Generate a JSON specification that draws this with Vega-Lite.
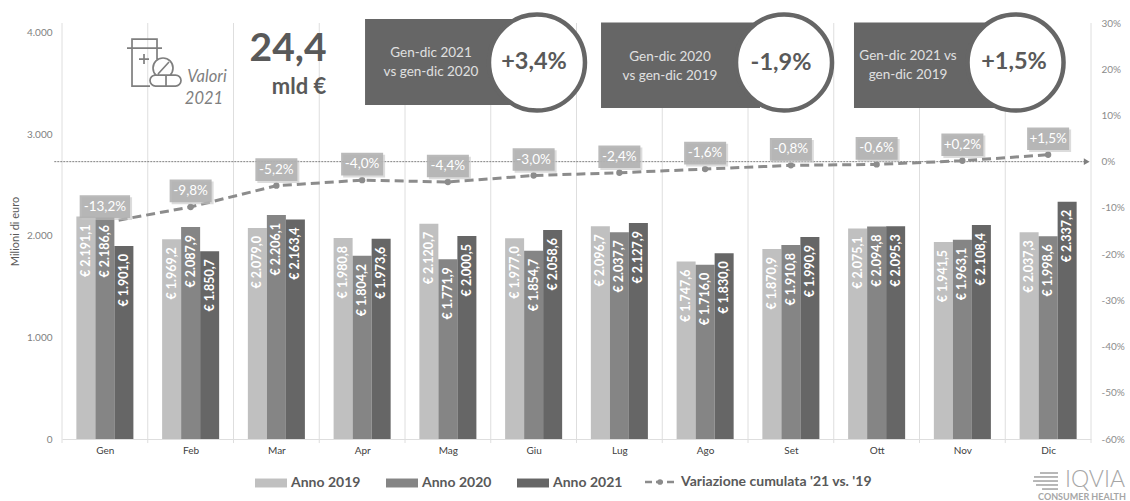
{
  "$schema": "https://vega.github.io/schema/vega-lite/v6.json",
  "autosize": "none",
  "padding": {"left": 62, "top": 23, "right": 39, "bottom": 62},
  "width": 1029,
  "height": 416,
  "background": "white",
  "config": {"view": {"stroke": null}, "font": "Lato", "text": {"font": "Lato"}},
  "datasets": {
    "vendite": [
      {"mese": "Gen", "serie": "Anno 2019", "v": 2191.1}, {"mese": "Gen", "serie": "Anno 2020", "v": 2186.6}, {"mese": "Gen", "serie": "Anno 2021", "v": 1901.0},
      {"mese": "Feb", "serie": "Anno 2019", "v": 1969.2}, {"mese": "Feb", "serie": "Anno 2020", "v": 2087.9}, {"mese": "Feb", "serie": "Anno 2021", "v": 1850.7},
      {"mese": "Mar", "serie": "Anno 2019", "v": 2079.0}, {"mese": "Mar", "serie": "Anno 2020", "v": 2206.1}, {"mese": "Mar", "serie": "Anno 2021", "v": 2163.4},
      {"mese": "Apr", "serie": "Anno 2019", "v": 1980.8}, {"mese": "Apr", "serie": "Anno 2020", "v": 1804.2}, {"mese": "Apr", "serie": "Anno 2021", "v": 1973.6},
      {"mese": "Mag", "serie": "Anno 2019", "v": 2120.7}, {"mese": "Mag", "serie": "Anno 2020", "v": 1771.9}, {"mese": "Mag", "serie": "Anno 2021", "v": 2000.5},
      {"mese": "Giu", "serie": "Anno 2019", "v": 1977.0}, {"mese": "Giu", "serie": "Anno 2020", "v": 1854.7}, {"mese": "Giu", "serie": "Anno 2021", "v": 2058.6},
      {"mese": "Lug", "serie": "Anno 2019", "v": 2096.7}, {"mese": "Lug", "serie": "Anno 2020", "v": 2037.7}, {"mese": "Lug", "serie": "Anno 2021", "v": 2127.9},
      {"mese": "Ago", "serie": "Anno 2019", "v": 1747.6}, {"mese": "Ago", "serie": "Anno 2020", "v": 1716.0}, {"mese": "Ago", "serie": "Anno 2021", "v": 1830.0},
      {"mese": "Set", "serie": "Anno 2019", "v": 1870.9}, {"mese": "Set", "serie": "Anno 2020", "v": 1910.8}, {"mese": "Set", "serie": "Anno 2021", "v": 1990.9},
      {"mese": "Ott", "serie": "Anno 2019", "v": 2075.1}, {"mese": "Ott", "serie": "Anno 2020", "v": 2094.8}, {"mese": "Ott", "serie": "Anno 2021", "v": 2095.3},
      {"mese": "Nov", "serie": "Anno 2019", "v": 1941.5}, {"mese": "Nov", "serie": "Anno 2020", "v": 1963.1}, {"mese": "Nov", "serie": "Anno 2021", "v": 2108.4},
      {"mese": "Dic", "serie": "Anno 2019", "v": 2037.3}, {"mese": "Dic", "serie": "Anno 2020", "v": 1998.6}, {"mese": "Dic", "serie": "Anno 2021", "v": 2337.2}
    ],
    "cumulata": [
      {"mese": "Gen", "p": -13.2}, {"mese": "Feb", "p": -9.8}, {"mese": "Mar", "p": -5.2}, {"mese": "Apr", "p": -4.0},
      {"mese": "Mag", "p": -4.4}, {"mese": "Giu", "p": -3.0}, {"mese": "Lug", "p": -2.4}, {"mese": "Ago", "p": -1.6},
      {"mese": "Set", "p": -0.8}, {"mese": "Ott", "p": -0.6}, {"mese": "Nov", "p": 0.2}, {"mese": "Dic", "p": 1.5}
    ]
  },
  "resolve": {"scale": {"y": "independent"}},
  "encoding": {
    "x": {
      "field": "m", "type": "quantitative",
      "scale": {"domain": [0, 12], "nice": false, "zero": false},
      "axis": {
        "title": null, "values": [0.5, 1.5, 2.5, 3.5, 4.5, 5.5, 6.5, 7.5, 8.5, 9.5, 10.5, 11.5],
        "labelExpr": "['Gen', 'Feb', 'Mar', 'Apr', 'Mag', 'Giu', 'Lug', 'Ago', 'Set', 'Ott', 'Nov', 'Dic'][floor(datum.value)]",
        "ticks": false, "domain": true, "domainColor": "#dedede", "grid": false,
        "labelColor": "#404040", "labelFont": "Lato", "labelFontSize": 10, "labelPadding": 6, "labelAngle": 0
      }
    }
  },
  "layer": [
    {
      "data": {"values": [{"m": 0}, {"m": 1}, {"m": 2}, {"m": 3}, {"m": 4}, {"m": 5}, {"m": 6}, {"m": 7}, {"m": 8}, {"m": 9}, {"m": 10}, {"m": 11}, {"m": 12}]},
      "mark": {"type": "rule", "color": "#dedede", "strokeWidth": 1},
      "encoding": {
        "y": {"datum": -40, "type": "quantitative", "scale": {"domain": [0, 4098.5]}, "axis": null},
        "y2": {"datum": 4098.5}
      }
    },
    {
      "data": {"values": [{"m": -0.09, "m2": 11.95, "livello": 0}]},
      "mark": {"type": "rule", "color": "#7f7f7f", "strokeWidth": 1, "strokeDash": [2, 1]},
      "encoding": {
        "x2": {"field": "m2"},
        "y": {"field": "livello", "type": "quantitative", "scale": {"domain": [-60, 30]}, "axis": null}
      }
    },
    {
      "data": {"values": [{"m": 11.95, "livello": 0}]},
      "mark": {"type": "point", "shape": "triangle-right", "filled": true, "color": "#7f7f7f", "size": 45, "opacity": 1},
      "encoding": {
        "y": {"field": "livello", "type": "quantitative", "scale": {"domain": [-60, 30]}, "axis": null}
      }
    },
    {
      "data": {"name": "cumulata"},
      "transform": [{"calculate": "indexof(['Gen', 'Feb', 'Mar', 'Apr', 'Mag', 'Giu', 'Lug', 'Ago', 'Set', 'Ott', 'Nov', 'Dic'], datum.mese) + 0.5", "as": "m"}],
      "mark": {"type": "line", "color": "#8c8c8c", "strokeWidth": 3, "strokeDash": [9, 5]},
      "encoding": {
        "y": {
          "field": "p", "type": "quantitative",
          "scale": {"domain": [-60, 30]},
          "axis": {"orient": "right", "title": null, "values": [-60, -50, -40, -30, -20, -10, 0, 10, 20, 30], "labelExpr": "datum.value + '%'", "domain": false, "ticks": false, "grid": false, "labelColor": "#8c8c8c", "labelFont": "Lato", "labelFontSize": 10, "labelPadding": 10}
        }
      }
    },
    {
      "data": {"name": "cumulata"},
      "transform": [{"calculate": "indexof(['Gen', 'Feb', 'Mar', 'Apr', 'Mag', 'Giu', 'Lug', 'Ago', 'Set', 'Ott', 'Nov', 'Dic'], datum.mese) + 0.5", "as": "m"}],
      "mark": {"type": "point", "filled": true, "size": 40, "opacity": 1, "color": "#8c8c8c"},
      "encoding": {
        "y": {"field": "p", "type": "quantitative", "scale": {"domain": [-60, 30]}, "axis": null}
      }
    },
    {
      "data": {"name": "vendite"},
      "transform": [
        {"calculate": "indexof(['Gen', 'Feb', 'Mar', 'Apr', 'Mag', 'Giu', 'Lug', 'Ago', 'Set', 'Ott', 'Nov', 'Dic'], datum.mese) + 0.1675 + 0.2217 * indexof(['Anno 2019', 'Anno 2020', 'Anno 2021'], datum.serie)", "as": "m"},
        {"calculate": "datum.m + 0.2217", "as": "m2"}
      ],
      "mark": {"type": "rect"},
      "encoding": {
        "x2": {"field": "m2"},
        "y": {
          "field": "v", "type": "quantitative",
          "scale": {"domain": [0, 4098.5]},
          "axis": {"orient": "left", "title": "Milioni di euro", "titleFont": "Lato", "titleFontSize": 11, "titleFontWeight": "normal", "titleColor": "#595959", "titlePadding": 6, "values": [0, 1000, 2000, 3000, 4000], "labelExpr": "replace(format(datum.value, ','), ',', '.')", "domain": false, "ticks": false, "grid": false, "labelColor": "#7f7f7f", "labelFont": "Lato", "labelFontSize": 10, "labelPadding": 10}
        },
        "y2": {"datum": 0},
        "color": {
          "field": "serie", "type": "nominal",
          "title": null,
          "scale": {"domain": ["Anno 2019", "Anno 2020", "Anno 2021"], "range": ["#c0c0c0", "#858585", "#666666"]},
          "legend": {
            "orient": "none", "legendX": 193, "legendY": 444, "direction": "horizontal", "columns": 3, "columnPadding": 25,
            "symbolSize": 1024, "symbolType": "M-1,-0.28H1V0.28H-1Z", "symbolStrokeWidth": 0,
            "labelFont": "Lato", "labelFontSize": 14, "labelFontWeight": "bold", "labelColor": "#595959", "labelOffset": 4, "labelLimit": 300
          }
        }
      }
    },
    {
      "data": {"name": "vendite"},
      "transform": [
        {"calculate": "indexof(['Gen', 'Feb', 'Mar', 'Apr', 'Mag', 'Giu', 'Lug', 'Ago', 'Set', 'Ott', 'Nov', 'Dic'], datum.mese) + 0.278 + 0.2217 * indexof(['Anno 2019', 'Anno 2020', 'Anno 2021'], datum.serie)", "as": "m"},
        {"calculate": "'€ ' + replace(replace(replace(format(datum.v, ',.1f'), ',', '#'), '.', ','), '#', '.')", "as": "etichetta"}
      ],
      "mark": {"type": "text", "angle": 270, "align": "right", "baseline": "middle", "dx": -8, "color": "white", "font": "Lato", "fontSize": 12.5, "fontWeight": "bold"},
      "encoding": {
        "y": {"field": "v", "type": "quantitative", "scale": {"domain": [0, 4098.5]}, "axis": null},
        "text": {"field": "etichetta", "type": "nominal"}
      }
    },
    {
      "data": {"name": "cumulata"},
      "transform": [
        {"calculate": "indexof(['Gen', 'Feb', 'Mar', 'Apr', 'Mag', 'Giu', 'Lug', 'Ago', 'Set', 'Ott', 'Nov', 'Dic'], datum.mese) + 0.5", "as": "m"},
        {"calculate": "(datum.p > 0 ? '+' : '') + replace(replace(format(datum.p, '.1f'), '.', ','), '−', '-') + '%'", "as": "etichetta"}
      ],
      "encoding": {
        "y": {"field": "p", "type": "quantitative", "scale": {"domain": [-60, 30]}, "axis": null}
      },
      "layer": [
        {
          "mark": {"type": "point", "filled": true, "fill": "#c4c4c4", "opacity": 0.6, "stroke": null, "size": 1764, "xOffset": 2, "yOffset": -14},
          "encoding": {"shape": {"condition": {"test": "abs(datum.p) >= 10", "value": "M-1.2,-0.54H1.2V0.54H-1.2Z"}, "value": "M-1,-0.54H1V0.54H-1Z"}}
        },
        {
          "mark": {"type": "point", "filled": true, "fill": "#b0b0b0", "opacity": 0.88, "stroke": null, "size": 1764, "yOffset": -16},
          "encoding": {"shape": {"condition": {"test": "abs(datum.p) >= 10", "value": "M-1.2,-0.54H1.2V0.54H-1.2Z"}, "value": "M-1,-0.54H1V0.54H-1Z"}}
        },
        {
          "mark": {"type": "text", "color": "white", "font": "Lato", "fontSize": 13.5, "baseline": "middle", "yOffset": -16},
          "encoding": {"text": {"field": "etichetta", "type": "nominal"}}
        }
      ]
    },
    {
      "encoding": {
        "y": {"field": "y", "type": "quantitative", "scale": {"domain": [0, 4098.5]}, "axis": null}
      },
      "layer": [
        {
          "data": {"values": [
            {"m": 3.534, "m2": 5.341, "y": 4138, "y2": 3291},
            {"m": 6.286, "m2": 8.14, "y": 4103, "y2": 3261},
            {"m": 9.236, "m2": 10.939, "y": 4103, "y2": 3261}
          ]},
          "mark": {"type": "rect", "color": "#666666"},
          "encoding": {"x2": {"field": "m2"}, "y2": {"field": "y2"}}
        },
        {
          "data": {"values": [{"m": 5.539, "y": 3709}, {"m": 8.42, "y": 3709}, {"m": 11.12, "y": 3709}]},
          "mark": {"type": "point", "shape": "circle", "filled": true, "fill": "white", "stroke": "#666666", "strokeWidth": 4.5, "size": 9216, "opacity": 1}
        },
        {
          "data": {"values": [
            {"m": 4.303, "y": 3803, "testo": "Gen-dic 2021"},
            {"m": 4.303, "y": 3616, "testo": "vs gen-dic 2020"},
            {"m": 7.09, "y": 3763, "testo": "Gen-dic 2020"},
            {"m": 7.09, "y": 3576, "testo": "vs gen-dic 2019"},
            {"m": 9.866, "y": 3773, "testo": "Gen-dic 2021 vs"},
            {"m": 9.866, "y": 3586, "testo": "gen-dic 2019"}
          ]},
          "mark": {"type": "text", "color": "#e0e0e0", "font": "Lato", "fontSize": 13.5, "baseline": "middle"},
          "encoding": {"text": {"field": "testo", "type": "nominal"}}
        },
        {
          "data": {"values": [
            {"m": 5.504, "y": 3714, "testo": "+3,4%"},
            {"m": 8.385, "y": 3704, "testo": "-1,9%"},
            {"m": 11.102, "y": 3714, "testo": "+1,5%"}
          ]},
          "mark": {"type": "text", "color": "#595959", "font": "Lato", "fontSize": 23.5, "fontWeight": "bold", "baseline": "middle"},
          "encoding": {"text": {"field": "testo", "type": "nominal"}}
        },
        {
          "data": {"values": [{"m": 2.636, "y": 3842, "testo": "24,4"}]},
          "mark": {"type": "text", "color": "#595959", "font": "Lato", "fontSize": 39, "fontWeight": "bold", "baseline": "middle"},
          "encoding": {"text": {"field": "testo", "type": "nominal"}}
        },
        {
          "data": {"values": [{"m": 2.764, "y": 3468, "testo": "mld €"}]},
          "mark": {"type": "text", "color": "#595959", "font": "Lato", "fontSize": 22, "fontWeight": "bold", "baseline": "middle"},
          "encoding": {"text": {"field": "testo", "type": "nominal"}}
        },
        {
          "data": {"values": [{"m": 1.691, "y": 3566, "testo": "Valori"}, {"m": 1.656, "y": 3350, "testo": "2021"}]},
          "mark": {"type": "text", "color": "#7f7f7f", "font": "Lato", "fontSize": 16.5, "fontStyle": "italic", "baseline": "middle"},
          "encoding": {"text": {"field": "testo", "type": "nominal"}}
        },
        {
          "data": {"values": [{"m": 1.073, "y": 3704}]},
          "mark": {
            "type": "point", "filled": false, "stroke": "#7f7f7f", "strokeWidth": 1.7, "size": 4, "opacity": 1,
            "shape": "M-22,-15V-24H3V-15M-27,-15H8M-22,-15V23H-4M3,-15V-3M-15,-4H-5M-10,-9V1M1.9,12A10,10 0 1,1 16.1,12M4,11L15,-1M1.5,12H21.5A5.5,5.5 0 0,1 21.5,23H1.5A5.5,5.5 0 0,1 1.5,12ZM12,12V23"
          }
        },
        {
          "data": {"values": [{"m": 6.799, "m2": 7.149, "y": -424}]},
          "mark": {"type": "rule", "color": "#8c8c8c", "strokeWidth": 2.5, "strokeDash": [7, 4]},
          "encoding": {"x2": {"field": "m2"}}
        },
        {
          "data": {"values": [{"m": 6.974, "y": -424}]},
          "mark": {"type": "point", "filled": true, "color": "#8c8c8c", "size": 32, "opacity": 1}
        },
        {
          "data": {"values": [{"m": 7.219, "y": -424, "testo": "Variazione cumulata '21 vs. '19"}]},
          "mark": {"type": "text", "color": "#595959", "font": "Lato", "fontSize": 14, "fontWeight": "bold", "align": "left", "baseline": "middle"},
          "encoding": {"text": {"field": "testo", "type": "nominal"}}
        },
        {
          "data": {"values": [
            {"m": 11.405, "m2": 11.615, "y": -335},
            {"m": 11.335, "m2": 11.615, "y": -374},
            {"m": 11.324, "m2": 11.615, "y": -414},
            {"m": 11.359, "m2": 11.615, "y": -453},
            {"m": 11.429, "m2": 11.615, "y": -493}
          ]},
          "mark": {"type": "rule", "color": "#a6a6a6", "strokeWidth": 1.6},
          "encoding": {"x2": {"field": "m2"}}
        },
        {
          "data": {"values": [{"m": 12.047, "y": -404, "testo": "IQVIA"}]},
          "mark": {"type": "text", "color": "#a6a6a6", "font": "Lato", "fontSize": 23, "fontWeight": 300, "baseline": "middle"},
          "encoding": {"text": {"field": "testo", "type": "nominal"}}
        },
        {
          "data": {"values": [{"m": 11.895, "y": -571, "testo": "CONSUMER HEALTH"}]},
          "mark": {"type": "text", "color": "#a6a6a6", "font": "Lato", "fontSize": 9, "fontWeight": "bold", "baseline": "middle"},
          "encoding": {"text": {"field": "testo", "type": "nominal"}}
        }
      ]
    }
  ]
}
